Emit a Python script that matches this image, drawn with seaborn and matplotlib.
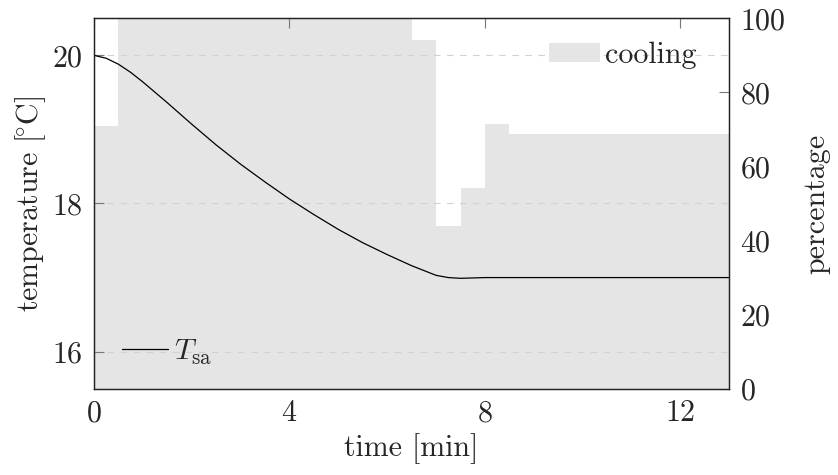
import matplotlib
matplotlib.use('Agg')
import matplotlib.pyplot as plt
import seaborn as sns
from matplotlib.patches import Patch
from matplotlib.lines import Line2D

# supply air temperature T_sa [degC] over time [min]
time_min = [0, 0.25, 0.5, 0.75, 1.0, 1.5, 2.0, 2.5, 3.0, 3.5, 4.0, 4.5,
            5.0, 5.5, 6.0, 6.5, 7.0, 7.25, 7.5, 8.0, 9.0, 10.0, 11.0, 12.0, 13.0]
temp_sa = [20.00, 19.96, 19.88, 19.77, 19.64, 19.36, 19.07, 18.79, 18.53, 18.29,
           18.06, 17.85, 17.65, 17.47, 17.31, 17.16, 17.03, 17.00, 16.99, 17.00,
           17.00, 17.00, 17.00, 17.00, 17.00]

# cooling share [%], constant between the edges
cool_edges = [0, 0.5, 6.5, 7.0, 7.5, 8.0, 8.5, 13.0]
cool_pct = [70.8, 100, 94.2, 44.0, 54.2, 71.5, 68.7]

sns.set_style('white')
plt.rcParams['font.family'] = ['cmr10', 'DejaVu Serif']
plt.rcParams['mathtext.fontset'] = 'cm'
plt.rcParams['axes.formatter.use_mathtext'] = True
plt.rcParams['lines.scale_dashes'] = False

FS = 21.6
GRAY = '#e5e5e5'
TICK = '#777777'

fig = plt.figure(figsize=(8.38, 4.75), dpi=100)
ax = fig.add_axes([0.1122, 0.1817, 0.7581, 0.7798])
ax2 = ax.twinx()

# cooling on the right axis, drawn below the temperature axis
sns.histplot(x=cool_edges[:-1], weights=cool_pct, bins=cool_edges,
             element='step', fill=True, color=GRAY, alpha=1, linewidth=0, ax=ax2)
ax2.set_ylim(0, 100)
ax2.set_yticks([0, 20, 40, 60, 80, 100])
ax2.set_ylabel('percentage', fontsize=FS, labelpad=12)

ax.set_zorder(ax2.get_zorder() + 1)
ax.patch.set_visible(False)

sns.lineplot(x=time_min, y=temp_sa, color='black', lw=0.9, ax=ax)
ax.set_xlim(0, 13)
ax.set_ylim(15.5, 20.5)
ax.set_xticks([0, 4, 8, 12])
ax.set_yticks([16, 18, 20])
ax.set_xlabel('time [min]', fontsize=FS, labelpad=4)
ax.set_ylabel(r'temperature [$\!^{\circ}$C]', fontsize=FS, labelpad=3)
ax.grid(axis='y', linestyle=(0, (4.7, 4.7)), color='#d2d2d2', lw=0.8)

ax.tick_params(axis='both', direction='in', length=7, width=0.8, color=TICK,
               labelsize=FS, pad=8, top=True)
ax2.tick_params(axis='y', direction='in', length=7, width=0.8, color=TICK,
                labelsize=FS, pad=8)
for a in (ax, ax2):
    for s in a.spines.values():
        s.set_color('#222222')
        s.set_linewidth(0.9)

leg1 = ax.legend(handles=[Patch(facecolor=GRAY, edgecolor='none', label='cooling')],
                 loc='center right', bbox_to_anchor=(0.948, 0.901), frameon=False,
                 fontsize=FS, handlelength=1.7, handleheight=0.6, handletextpad=0.15,
                 borderpad=0, borderaxespad=0)
ax.add_artist(leg1)
ax.legend(handles=[Line2D([], [], color='black', lw=0.9, label=r'$T_{\rm sa}$')],
          loc='center left', bbox_to_anchor=(0.0436, 0.098), frameon=False,
          fontsize=FS, handlelength=1.55, handletextpad=0.2,
          borderpad=0, borderaxespad=0)

fig.savefig('out.png', dpi=100)
